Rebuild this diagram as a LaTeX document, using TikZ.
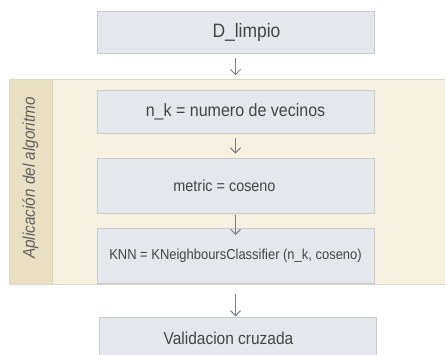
\documentclass[tikz,border=0pt]{standalone}
\usepackage{fontspec}
\setmainfont{Liberation Sans}[FakeStretch=0.9]
\usetikzlibrary{arrows.meta,positioning,backgrounds}
\definecolor{kbox}{HTML}{E4E7EB}
\definecolor{kline}{HTML}{C9CBCE}
\definecolor{klane}{HTML}{F6F0E1}
\definecolor{klanehead}{HTML}{E9DFC3}
\definecolor{klaneline}{HTML}{DCD5C3}
\definecolor{ktext}{HTML}{454545}
\definecolor{karrow}{HTML}{7E7E7E}
\newcommand{\fsz}[1]{\fontsize{#1}{#1}\selectfont}

\begin{document}
\begin{tikzpicture}[x=1pt,y=1pt,
  box/.style={draw=kline,fill=kbox,inner sep=0pt,minimum width=277pt,
              text=ktext},
  flow/.style={-{Straight Barb[length=5pt,width=10pt]},draw=karrow,
               line width=1pt},
]
\useasboundingbox (0,0) rectangle (445,354);
\clip (0,0) rectangle (445,354);

% the pipeline
\node[box,minimum height=42pt,font=\fsz{19.4}] (dlimpio) at (235.5,322)
  {\hspace*{22pt}D\_limpio};
\node[box,minimum height=43pt,font=\fsz{17.8},below=37pt of dlimpio] (nk)
  {n\_k = numero de vecinos};
\node[box,minimum height=55pt,font=\fsz{16},below=24pt of nk] (metric)
  {metric = coseno\hspace*{22pt}};
\node[box,minimum height=55pt,font=\fsz{14.4},below=15pt of metric] (knn)
  {KNN = KNeighboursClassifier (n\_k, coseno)};
\node[box,minimum height=42pt,font=\fsz{17.2},below=34pt of knn,xshift=2pt]
  (valid) {Validacion cruzada\hspace*{18pt}};

% the swimlane
\begin{scope}[on background layer]
  \fill[klane] (9,70) rectangle (450,275);
  \fill[klanehead] (9,70) rectangle (52,275);
  \draw[klaneline] (9,70) rectangle (450,275);
  \draw[klaneline] (52,70) -- (52,275);
\end{scope}
\node[rotate=90,font=\itshape\fsz{17},text=ktext!85] (lanelabel) at (30.5,176)
  {Aplicación del algoritmo};

\draw[flow,shorten <=5pt,shorten >=15pt] (dlimpio) -- (nk);
\draw[flow,shorten <=4pt,shorten >=4pt] (nk) -- (metric);
\draw[flow,shorten <=2pt,shorten >=-7pt] (metric) -- (knn);
\draw[flow,shorten <=11pt,shorten >=1pt] (knn.south) -- (knn.south |- valid.north);

\end{tikzpicture}
\end{document}
